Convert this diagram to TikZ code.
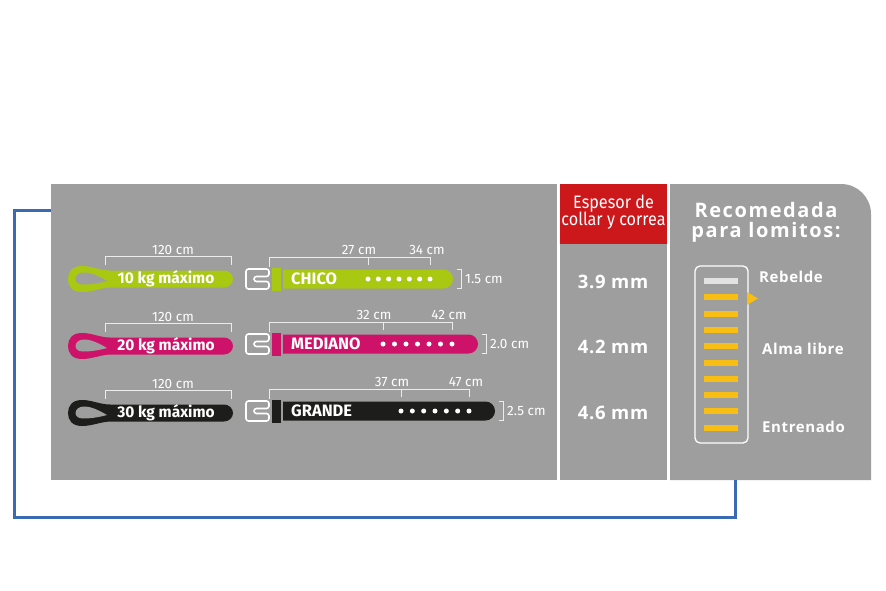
\documentclass[tikz,border=0pt]{standalone}
\usepackage{fontspec}
\usepackage{graphicx}
\setmainfont{Fira Sans}
\newfontfamily\osans[LetterSpace=4]{Open Sans}
\newfontfamily\tsans[LetterSpace=8]{Open Sans}
\definecolor{panelgray}{RGB}{158,158,158}
\definecolor{limec}{RGB}{168,200,18}
\definecolor{magen}{RGB}{206,18,106}
\definecolor{blkc}{RGB}{29,29,27}
\definecolor{redh}{RGB}{204,23,27}
\definecolor{bluel}{RGB}{58,106,180}
\definecolor{yelc}{RGB}{249,190,20}
\definecolor{lgray}{RGB}{226,226,226}
\definecolor{dimc}{RGB}{236,236,236}
\tikzset{
  dim/.style={draw=dimc,line width=1pt},
  lbl/.style={text=white,inner sep=0pt,font=\fontsize{13.5}{15}\selectfont},
  leashtxt/.style={text=white,inner sep=0pt,font=\fontsize{15.5}{17}\selectfont\bfseries},
  collartxt/.style={text=white,inner sep=0pt,anchor=west,font=\fontsize{16.5}{18}\selectfont\bfseries},
  valtxt/.style={text=white,inner sep=0pt,font=\fontsize{18.5}{21}\selectfont\osans\bfseries},
  moodtxt/.style={text=white,inner sep=0pt,anchor=west,font=\fontsize{15}{18}\selectfont\osans\bfseries},
  headtxt/.style={text=white,inner sep=0pt,font=\fontsize{18}{18}\selectfont},
  titletxt/.style={text=white,inner sep=0pt,font=\fontsize{20}{22}\selectfont\tsans\bfseries},
  buckle/.style={draw=white,line width=1.6pt,rounded corners=2.5pt},
  blueline/.style={draw=bluel,line width=3pt},
}
\newcommand\leash[4]{%
  \fill[#2] (110,#1-8.5) -- (224,#1-8.5) .. controls (229,#1-8.5) and (233,#1-4.5) .. (233,#1)
    .. controls (233,#1+4.5) and (229,#1+8.5) .. (224,#1+8.5) -- (110,#1+8.5)
    .. controls (100,#1+9) and (92,#1+13) .. (82,#1+13)
    .. controls (72,#1+13) and (68,#1+7) .. (68,#1)
    .. controls (68,#1-7) and (72,#1-13) .. (82,#1-13)
    .. controls (92,#1-13) and (100,#1-8.5) .. (110,#1-8.5) -- cycle;
  \fill[panelgray] (107,#1+2) .. controls (98,#1+4.5) and (90,#1+5.5) .. (83,#1+5.5)
    .. controls (78,#1+5.5) and (75.5,#1+3) .. (75.5,#1)
    .. controls (75.5,#1-3.5) and (79,#1-6.5) .. (84,#1-6.5)
    .. controls (92,#1-6.5) and (100,#1-2) .. (107,#1+2) -- cycle;
  \node[leashtxt] (#4) at (166,#1) {#3};
  \draw[dim] (105,#1-14) -- (105,#1-23) -- (231,#1-23) -- (231,#1-14);
  \node[lbl] (#4len) at (173,#1-29) {120 cm};
}
% #1 c, #2 colour, #3 name, #4 strap end, #5 dot start, #6 dot end, #7 #8 labels, #9 thickness
\newcommand\collar[9]{%
  \draw[buckle] (269,#1-10) -- (246,#1-10) -- (246,#1+10) -- (269,#1+10) -- (269,#1+2.5)
    -- (254,#1+2.5) -- (254,#1-2.5) -- (269,#1-2.5) -- cycle;
  \fill[#2] (272,#1-11.5) rectangle (281,#1+11.5);
  \fill[#2] (283,#1-9.5) -- (#4-9.5,#1-9.5) .. controls (#4-4.25,#1-9.5) and (#4,#1-5.25) .. (#4,#1)
    .. controls (#4,#1+5.25) and (#4-4.25,#1+9.5) .. (#4-9.5,#1+9.5) -- (283,#1+9.5) -- cycle;
  \node[collartxt] (cn#1) at (291,#1) {#3};
  \foreach \i in {0,...,6} \fill[white] ({#5+\i*(#6-#5)/6},#1) circle (2.5pt);
  \draw[dim] (#4+4,#1-9.5) -- (#4+8,#1-9.5) -- (#4+8,#1+9.5) -- (#4+4,#1+9.5);
  \node[lbl,anchor=west] (ct#1) at (#4+12,#1) {#9};
  \draw[dim] (269,#1-12) -- (269,#1-22) -- (#6,#1-22) -- (#6,#1-14);
  \draw[dim] (#5,#1-22) -- (#5,#1-14);
  \node[lbl] (cl#1) at (#5-9,#1-29.5) {#7};
  \node[lbl] (cr#1) at (#6-3,#1-29.5) {#8};
}
\begin{document}
\begin{tikzpicture}[x=1pt,y=-1pt]
\useasboundingbox (0,0) rectangle (886,591);
\fill[white] (0,0) rectangle (886,591);
% panels
\fill[panelgray] (51,184) rectangle (557,480);
\fill[panelgray] (560,184) rectangle (667,480);
\fill[redh] (560,184) rectangle (667,244);
\fill[panelgray] (670,480) -- (670,184) -- (841,184) .. controls (857.6,184) and (871,197.4) .. (871,214) -- (871,480) -- cycle;
% blue connector
\coordinate (bstart) at (51,210);
\coordinate (bend) at (735,480);
\coordinate (bcorner) at (14,517);
\draw[blueline] (bstart) -| (bcorner) -| (bend);
% leashes
\leash{279}{limec}{10 kg máximo}{l1}
\leash{346}{magen}{20 kg máximo}{l2}
\leash{413}{blkc}{30 kg máximo}{l3}
% collars
\collar{279}{limec}{CHICO}{453}{368}{430}{27 cm}{34 cm}{1.5 cm}
\collar{344}{magen}{MEDIANO}{478}{383}{452}{32 cm}{42 cm}{2.0 cm}
\collar{411}{blkc}{GRANDE}{495}{401}{469}{37 cm}{47 cm}{2.5 cm}
% thickness column
\node[headtxt] (h1) at (613.5,204) {\scalebox{0.9}[1]{Espesor de}};
\node[headtxt] (h2) at (613.5,221) {\scalebox{0.9}[1]{collar y correa}};
\node[valtxt] (v1) at (613,282) {3.9 mm};
\node[valtxt] (v2) at (613,347) {4.2 mm};
\node[valtxt] (v3) at (613,413) {4.6 mm};
% recommendation column
\node[titletxt] (t1) at (766,210) {Recomedada};
\node[titletxt] (t2) at (766,232) {para lomitos:};
\draw[draw=white,line width=1.3pt,rounded corners=5pt] (695,266) rectangle (748,443);
\fill[lgray] (704,278) rectangle (738,284);
\foreach \i in {1,...,9} \fill[yelc] (704,{278+\i*16.3}) rectangle (738,{284+\i*16.3});
\fill[yelc] (747,292) -- (758,298.5) -- (747,305) -- cycle;
\node[moodtxt] (m1) at (759,277) {Rebelde};
\node[moodtxt] (m2) at (762,349) {Alma libre};
\node[moodtxt] (m3) at (762,427) {Entrenado};
\end{tikzpicture}
\end{document}
